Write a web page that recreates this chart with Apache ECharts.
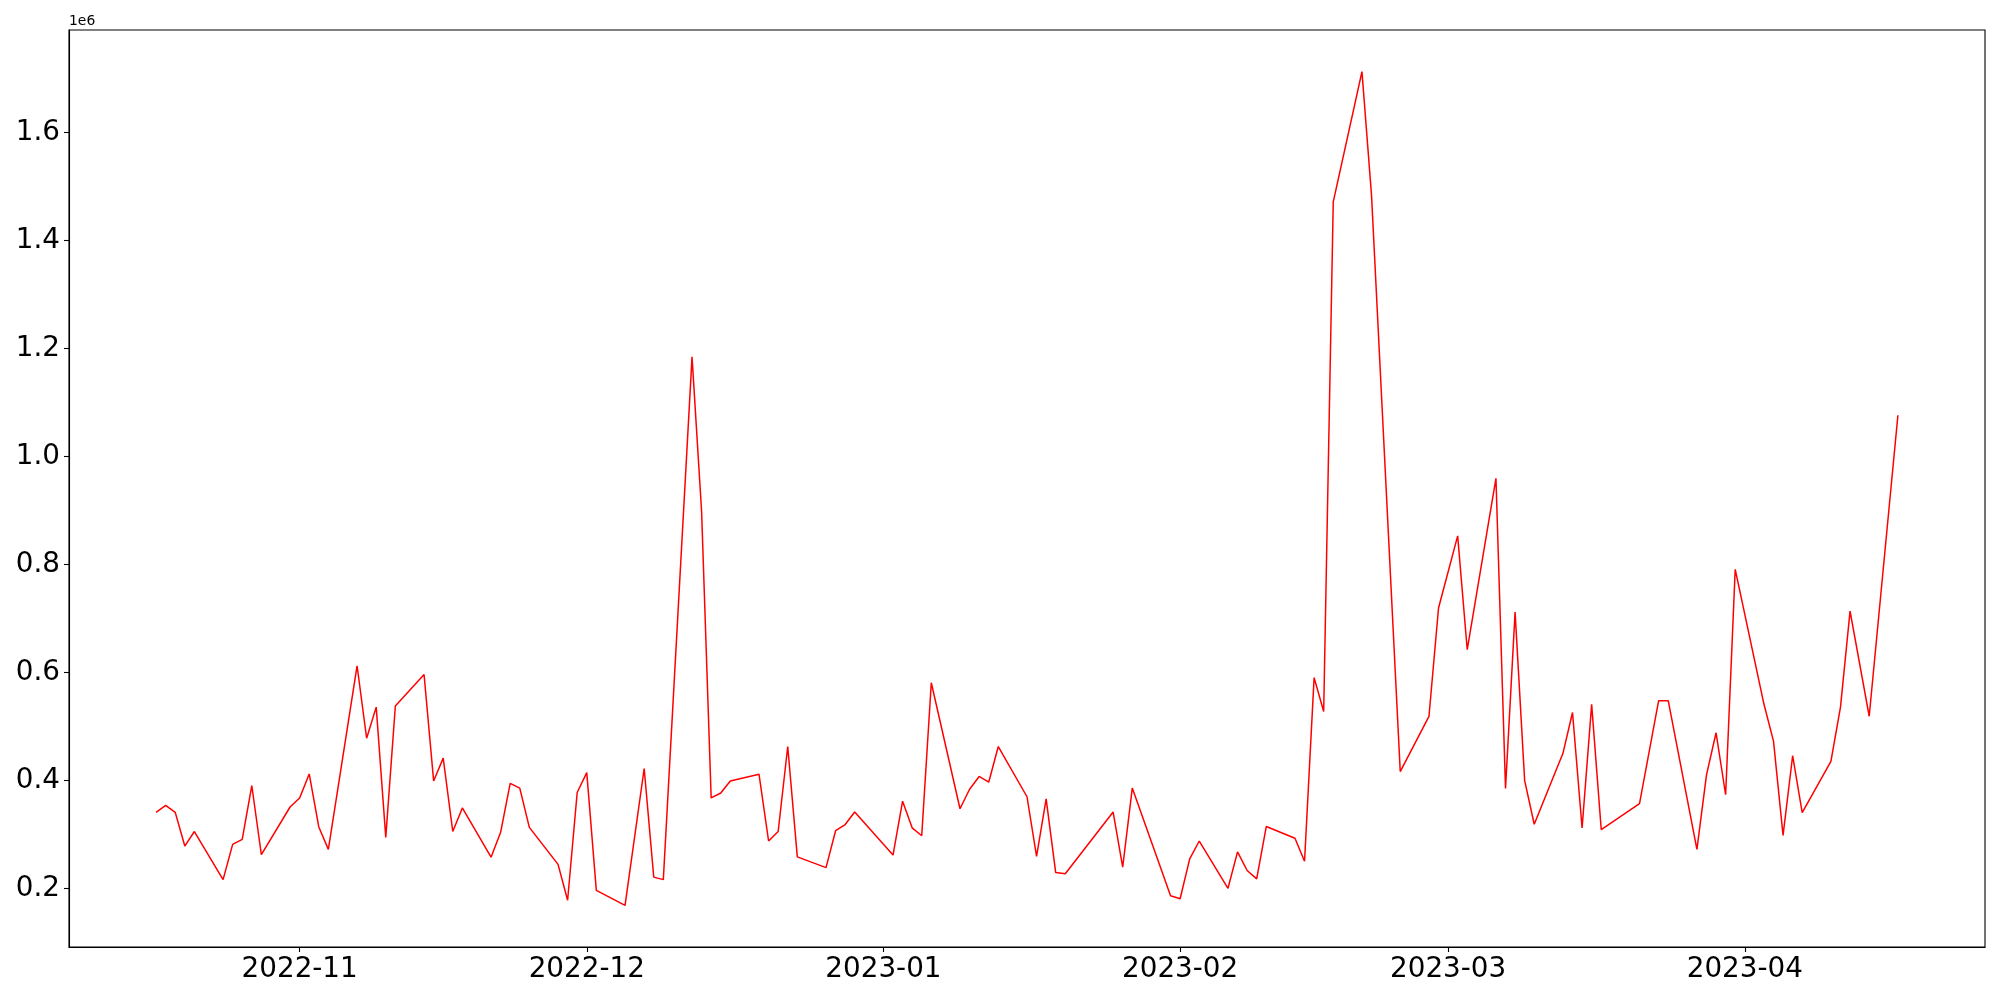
<!DOCTYPE html>
<html>
<head>
<meta charset="utf-8">
<script src="https://cdn.jsdelivr.net/npm/echarts@6/dist/echarts.min.js"></script>
<style>
  html, body { margin: 0; padding: 0; background: #fff; }
  #chart { width: 2000px; height: 1000px; }
</style>
</head>
<body>
<div id="chart"></div>
<script>
// ---- data ----
const dates = [
  '2022-10-17','2022-10-18','2022-10-19','2022-10-20','2022-10-21',
  '2022-10-24','2022-10-25','2022-10-26','2022-10-27','2022-10-28',
  '2022-10-31','2022-11-01','2022-11-02','2022-11-03','2022-11-04',
  '2022-11-07','2022-11-08','2022-11-09','2022-11-10','2022-11-11',
  '2022-11-14','2022-11-15','2022-11-16','2022-11-17','2022-11-18',
  '2022-11-21','2022-11-22','2022-11-23','2022-11-24','2022-11-25',
  '2022-11-28','2022-11-29','2022-11-30','2022-12-01','2022-12-02',
  '2022-12-05','2022-12-07','2022-12-08','2022-12-09',
  '2022-12-12','2022-12-13','2022-12-14','2022-12-15','2022-12-16',
  '2022-12-19','2022-12-20','2022-12-21','2022-12-22','2022-12-23',
  '2022-12-26','2022-12-27','2022-12-28','2022-12-29',
  '2023-01-02','2023-01-03','2023-01-04','2023-01-05','2023-01-06',
  '2023-01-09','2023-01-10','2023-01-11','2023-01-12','2023-01-13',
  '2023-01-16','2023-01-17','2023-01-18','2023-01-19','2023-01-20',
  '2023-01-25','2023-01-26','2023-01-27',
  '2023-01-31','2023-02-01','2023-02-02','2023-02-03',
  '2023-02-06','2023-02-07','2023-02-08','2023-02-09','2023-02-10',
  '2023-02-13','2023-02-14','2023-02-15','2023-02-16','2023-02-17',
  '2023-02-20','2023-02-21','2023-02-24',
  '2023-02-27','2023-02-28','2023-03-02','2023-03-03',
  '2023-03-06','2023-03-07','2023-03-08','2023-03-09','2023-03-10',
  '2023-03-13','2023-03-14','2023-03-15','2023-03-16','2023-03-17',
  '2023-03-21','2023-03-23','2023-03-24',
  '2023-03-27','2023-03-28','2023-03-29','2023-03-30','2023-03-31',
  '2023-04-03','2023-04-04','2023-04-05','2023-04-06','2023-04-07',
  '2023-04-10','2023-04-11','2023-04-12','2023-04-14','2023-04-17'
];
const values = [
  340600, 353500, 340600, 278300, 305200,
  216100, 281300, 290600, 390400, 262200,
  350600, 367400, 411900, 313700, 272200,
  612200, 478000, 535600, 294400, 537800,
  596100, 398900, 441100, 305200, 348900,
  257600, 303700, 394300, 385700, 312800,
  244400, 177800, 377400, 414300, 196100,
  168500, 421900, 220700, 216100,
  1184300, 898000, 367400, 376500, 398700,
  411100, 287600, 305200, 462600, 258300,
  238300, 306700, 318100, 341300,
  261500, 361300, 312000, 297400, 580700,
  347400, 383500, 407200, 396500, 462600,
  369600, 259100, 365700, 229100, 226900,
  341300, 239100, 385700,
  186100, 180700, 254400, 287600,
  200000, 267600, 233000, 217600, 314400,
  292800, 250200, 590200, 527400, 1471300,
  1712600, 1483500, 416300,
  518300, 719300, 852800, 641900,
  959400, 384800, 711500, 399400, 318700,
  450000, 525700, 311700, 540600, 308900,
  357000, 547600, 547600,
  272000, 410200, 488100, 373300, 790700,
  541300, 472600, 298100, 445600, 340000,
  435000, 535600, 713500, 518700, 1076300
];
const yTickValues = [200000, 400000, 600000, 800000, 1000000, 1200000, 1400000, 1600000];
const xTickLabels = ['2022-11', '2022-12', '2023-01', '2023-02', '2023-03', '2023-04'];
const offsetLabel = '1e6';

// ---- build ----
function parseDay(s) {
  const p = s.split('-').map(Number);
  return Date.UTC(p[0], p[1] - 1, p[2] || 1);
}
const times = dates.map(parseDay);
const seriesData = times.map((t, i) => [t, values[i]]);

const tMin = Math.min(...times), tMax = Math.max(...times);
const tPad = (tMax - tMin) * 0.05;
const vMin = Math.min(...values), vMax = Math.max(...values);
const vPad = (vMax - vMin) * 0.05;
const xTickTimes = xTickLabels.map(parseDay);
const xLabelMap = {};
xTickTimes.forEach((t, i) => { xLabelMap[t] = xTickLabels[i]; });

const FONT = 'DejaVu Sans';
const chart = echarts.init(document.getElementById('chart'), null, { renderer: 'canvas' });
chart.setOption({
  animation: false,
  backgroundColor: '#ffffff',
  grid: {
    left: 69, right: 15, top: 30, bottom: 53,
    show: true, borderColor: '#000', borderWidth: 1.1, backgroundColor: 'transparent',
    containLabel: false
  },
  xAxis: {
    type: 'value',
    min: tMin - tPad,
    max: tMax + tPad,
    scale: true,
    splitLine: { show: false },
    axisLine: { show: true, onZero: false, lineStyle: { color: '#000', width: 1.1 } },
    axisTick: {
      show: true, length: 5, inside: false,
      lineStyle: { color: '#000', width: 1.1 },
      customValues: xTickTimes
    },
    axisLabel: {
      show: true,
      customValues: xTickTimes,
      color: '#000',
      fontFamily: FONT,
      fontSize: 27.8,
      margin: 9,
      hideOverlap: false,
      formatter: function (v) {
        if (xLabelMap[v] !== undefined) return xLabelMap[v];
        const d = new Date(v);
        const m = d.getUTCMonth() + 1;
        return d.getUTCFullYear() + '-' + (m < 10 ? '0' + m : m);
      }
    }
  },
  yAxis: {
    type: 'value',
    min: vMin - vPad,
    max: vMax + vPad,
    scale: true,
    name: offsetLabel,
    nameLocation: 'end',
    nameGap: 2,
    nameTextStyle: {
      color: '#000', fontFamily: FONT, fontSize: 13.9,
      align: 'left', verticalAlign: 'bottom', padding: [0, 0, 0, 0]
    },
    splitLine: { show: false },
    axisLine: { show: true, onZero: false, lineStyle: { color: '#000', width: 1.1 } },
    axisTick: {
      show: true, length: 5, inside: false,
      lineStyle: { color: '#000', width: 1.1 },
      customValues: yTickValues
    },
    axisLabel: {
      show: true,
      customValues: yTickValues,
      color: '#000',
      fontFamily: FONT,
      fontSize: 27.8,
      margin: 9,
      formatter: function (v) { return (v / 1e6).toFixed(1); }
    }
  },
  series: [{
    type: 'line',
    data: seriesData,
    showSymbol: false,
    symbol: 'none',
    lineStyle: { color: '#ff0000', width: 1.5 },
    itemStyle: { color: '#ff0000' }
  }]
});
</script>
</body>
</html>
